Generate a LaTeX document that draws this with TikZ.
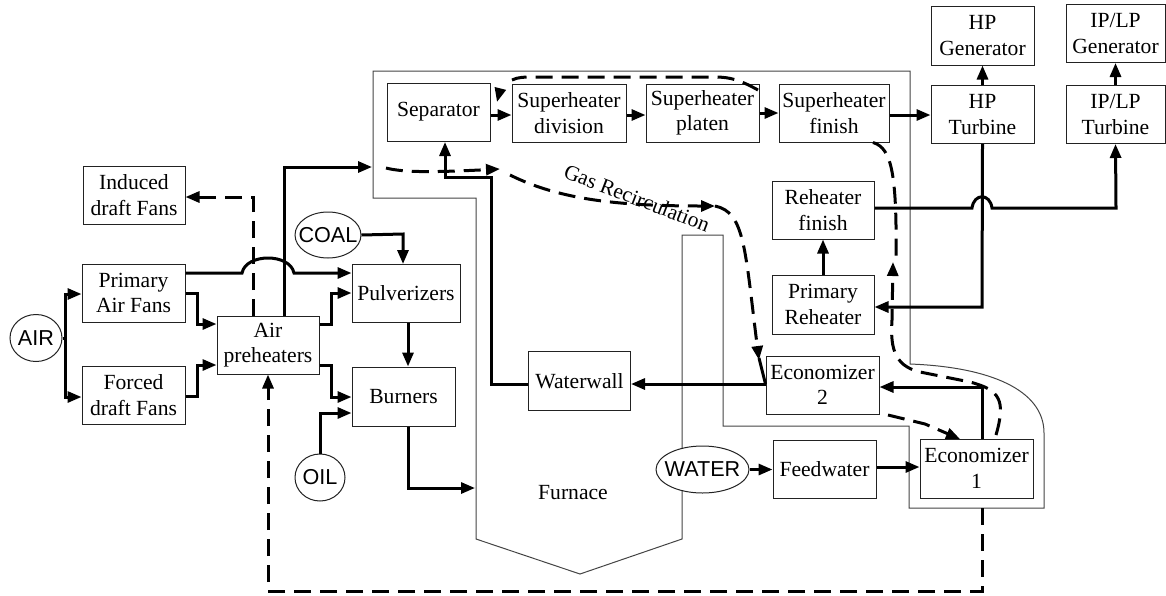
\documentclass[tikz,border=0pt]{standalone}
\usepackage{fontspec}
\setmainfont{Liberation Serif}
\newfontfamily\labelsans{Liberation Sans}
\usetikzlibrary{arrows.meta,shapes.geometric,calc}
\definecolor{inkbox}{HTML}{222222}
\definecolor{inkwall}{HTML}{444444}
\tikzset{
  procbox/.style={draw=inkbox,line width=1pt,inner sep=0pt,align=center,
    font=\fontsize{21.6}{25.5}\selectfont},
  fuelnode/.style={ellipse,draw=inkbox,fill=white,line width=1pt,inner sep=0pt,
    font=\labelsans\fontsize{21.6}{25}\selectfont},
  wallline/.style={draw=inkwall,line width=1pt,line join=miter},
  flow/.style={draw=black,line width=3pt,-{Triangle[length=14pt,width=11pt]}},
  gasflow/.style={draw=black,line width=3pt,dash pattern=on 17pt off 9pt,
    -{Triangle[length=14pt,width=11pt]}},
  gasplain/.style={draw=black,line width=3pt,dash pattern=on 17pt off 9pt},
}
\begin{document}
\begin{tikzpicture}[x=1pt,y=-1pt]
\useasboundingbox (0,0) rectangle (1166,595);
% boiler outline
\draw[wallline] (373,71) -- (910,71) -- (910,364)
  .. controls (990,367) and (1044,390) .. (1044,433)
  -- (1044,508) -- (909,508) -- (909,426) -- (723,426) -- (723,235) -- (682,235)
  -- (682,539) -- (580,574) -- (476,539) -- (476,198) -- (373,198) -- cycle;
\coordinate (bwall) at (372,167);
\coordinate (fwall) at (475,488);
% boxes
\node[procbox,minimum width=102,minimum height=58] (ind) at (134,195) {Induced\\draft Fans};
\node[procbox,minimum width=103,minimum height=58] (pri) at (133.5,293) {Primary\\Air Fans};
\node[procbox,minimum width=103,minimum height=58] (frc) at (133.5,395) {Forced\\draft Fans};
\node[procbox,minimum width=102,minimum height=58] (apr) at (268,345) {Air\\preheaters};
\node[procbox,minimum width=108,minimum height=58] (pul) at (406,293) {Pulverizers};
\node[procbox,minimum width=103,minimum height=59] (bur) at (403.5,396.5) {Burners};
\node[procbox,minimum width=103,minimum height=58] (sep) at (438.5,112) {Separator};
\node[procbox,minimum width=114,minimum height=58] (shd) at (569,113) {Superheater\\division};
\node[procbox,minimum width=113,minimum height=58] (shp) at (702.5,113) {Superheater\\platen};
\node[procbox,minimum width=110,minimum height=58] (shf) at (834,113) {Superheater\\finish};
\node[procbox,minimum width=103,minimum height=59] (hpg) at (982.5,35.5) {HP\\Generator};
\node[procbox,minimum width=99,minimum height=58] (ipg) at (1115.5,33.5) {IP/LP\\Generator};
\node[procbox,minimum width=103,minimum height=58] (hpt) at (982.5,114.5) {HP\\Turbine};
\node[procbox,minimum width=99,minimum height=58] (ipt) at (1115.5,114.5) {IP/LP\\Turbine};
\node[procbox,minimum width=102,minimum height=58] (rhf) at (823,210) {Reheater\\finish};
\node[procbox,minimum width=102,minimum height=59] (prh) at (823,304.5) {Primary\\Reheater};
\node[procbox,minimum width=113,minimum height=58] (ec2) at (822.5,385) {Economizer\\2};
\node[procbox,minimum width=103,minimum height=58] (fdw) at (824.5,469) {Feedwater};
\node[procbox,minimum width=113,minimum height=59] (ec1) at (976.5,468.5) {Economizer\\1};
\node[procbox,minimum width=102,minimum height=58.5] (wtr) at (579.5,381) {Waterwall};
% sources
\node[fuelnode,minimum width=52,minimum height=47] (air) at (36,338) {\makebox[0pt]{AIR}};
\node[fuelnode,minimum width=66,minimum height=46] (coal) at (328,235) {\makebox[0pt]{COAL}};
\node[fuelnode,minimum width=50,minimum height=47] (oil) at (320,477.5) {\makebox[0pt]{OIL}};
\node[fuelnode,minimum width=93,minimum height=47] (wat) at (702.5,469.5) {\makebox[0pt]{WATER}};
% labels
\node[font=\fontsize{21.4}{24}\selectfont,rotate=-21,inner sep=0pt] (gaslab) at (637,198) {Gas Recirculation};
\node[font=\fontsize{21.6}{25}\selectfont,inner sep=0pt] (furn) at (573,493) {Furnace};
% water / steam / air flows
\draw[flow] (air.east) -- (65,338) |- (pri.west |- 0,294);
\draw[flow] (air.east) -- (65,338) |- (frc.west |- 0,397);
\draw[flow] (pri.east |- 0,273) -- (242,273) .. controls (246,253) and (290,253) .. (294,273) -- (pul.west |- 0,273);
\draw[flow] (pri.east |- 0,293) -- (197,293) |- (apr.west |- 0,324);
\draw[flow] (frc.east |- 0,396) -- (197,396) |- (apr.west |- 0,365);
\draw[flow] (apr.east |- 0,324) -- (331,324) |- (pul.west |- 0,293);
\draw[flow] (apr.east |- 0,365) -- (331,365) |- (bur.west |- 0,397);
\draw[flow] (284,316) |- (bwall);
\draw[flow] (coal.east) -- (403,234) -- (403,264);
\draw[flow] (pul.south -| 408,0) -- (bur.north -| 408,0);
\draw[flow] (oil.north) |- (bur.west |- 0,413);
\draw[flow] (bur.south -| 408,0) |- (fwall);
\draw[flow] (wtr.west |- 0,384) -- (491,384) -- (491,177) -- (445,177) -- (445,142);
\draw[flow] (sep.east |- 0,115) -- (shd.west |- 0,115);
\draw[flow] (shd.east |- 0,115) -- (shp.west |- 0,115);
\draw[flow] (shp.east |- 0,113) -- (shf.west |- 0,113);
\draw[flow] (shf.east |- 0,115) -- (hpt.west |- 0,115);
\draw[flow] (hpt.north) -- (hpg.south);
\draw[flow] (ipt.north) -- (ipg.south);
\draw[flow] (hpt.south) -- (982,307) -- (prh.east |- 0,307);
\draw[flow] (rhf.east |- 0,208) -- (972,208) .. controls (974,193) and (990,193) .. (992,208) -- (1116,208) -- (ipt.south);
\draw[flow] (prh.north) -- (rhf.south);
\draw[flow] (ec2.west |- 0,384) -- (wtr.east |- 0,384);
\draw[flow] (fdw.east |- 0,467) -- (ec1.west |- 0,467);
\draw[flow] (wat.east) -- (fdw.west |- 0,469.5);
\draw[flow] (982,439) -- (982,387) -- (ec2.east |- 0,387);
% gas flows
\draw[gasflow] (253,316) -- (253,197) -- (ind.east |- 0,197);
\draw[gasflow] (982,508) -- (982,591) -- (268,591) -- (apr.south -| 268,0);
\draw[gasplain] (758,90) .. controls (740,80) and (730,77) .. (715,77) -- (535,77)
  .. controls (525,77) and (518,77) .. (512,80);
\draw[flow] (500,90) -- (497,102);
\draw[gasflow] (386,168) .. controls (405,173) and (440,172) .. (500,169);
\draw[gasflow] (510,175) .. controls (560,200) and (620,206) .. (715,206);
\draw[gasflow] (715,206) .. controls (745,212) and (745,250) .. (759,360);
\draw[line width=3pt] (759,358) -- (ec2.west |- 0,384);
\draw[gasplain] (shf.south -| 873,0) .. controls (892,148) and (897,175) .. (896,262);
\draw[gasflow] (996,435) .. controls (1006,400) and (1000,390) .. (970,382)
  -- (925,373) .. controls (895,368) and (890,350) .. (892,320) -- (893,262);
\draw[gasflow] (888,415) -- (925,424) -- (960,439);
\end{tikzpicture}
\end{document}
